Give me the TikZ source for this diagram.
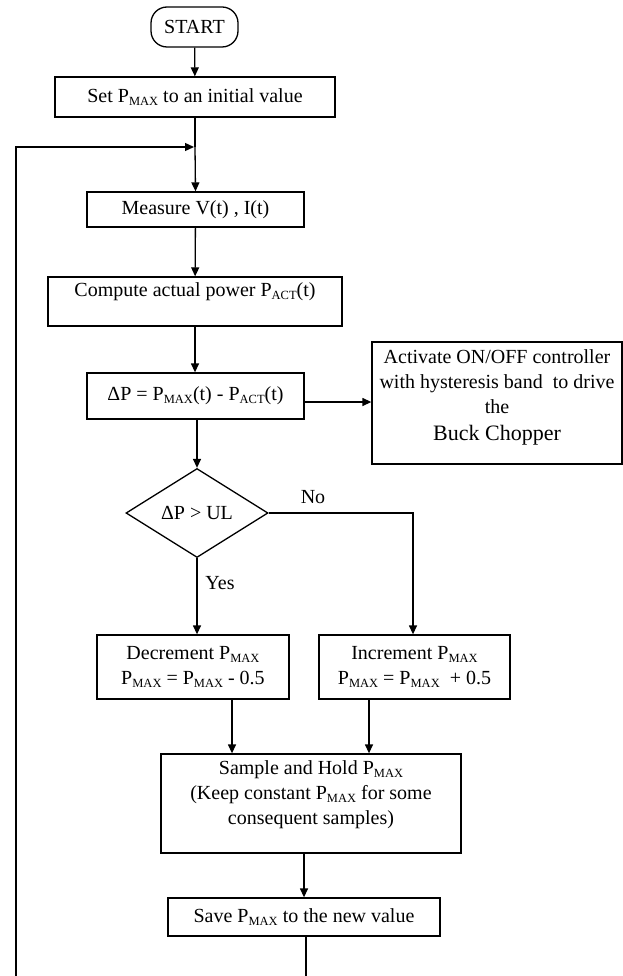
\documentclass[tikz,border=0pt]{standalone}
\usepackage{fontspec}
\setmainfont{Liberation Serif}
\usetikzlibrary{arrows.meta,shapes.geometric}
\newcommand{\subx}[1]{\raisebox{-3pt}{\fontsize{12.5}{12.5}\selectfont #1}}
\begin{document}
\begin{tikzpicture}[x=1pt,y=-1pt,
  box/.style={draw,line width=1.3pt,inner sep=0pt,align=center,font=\fontsize{20}{25}\selectfont},
  txt/.style={inner sep=0pt,align=center,font=\fontsize{20}{25}\selectfont},
  arr/.style={line width=1.3pt,-{Triangle[length=9pt,width=8pt]}},
  ln/.style={line width=1.3pt}]
\useasboundingbox (0,0) rectangle (623,976);
% nodes
\node[box, rounded corners=16pt, minimum width=87pt, minimum height=40pt] (start) at (194.5,27) {START};
\node[box, minimum width=280pt, minimum height=40pt] (set) at (195,97) {Set P\subx{MAX} to an initial value};
\coordinate (j) at (195,147);
\node[box, minimum width=217pt, minimum height=35pt] (meas) at (195.5,209.5) {Measure V(t) , I(t)};
\node[box, minimum width=294pt, minimum height=49pt] (comp) at (195,301.5) {};
\node[txt] (compt) at (195,292) {Compute actual power P\subx{ACT}(t)};
\node[box, minimum width=217pt, minimum height=46pt] (dp) at (195.5,396) {ΔP = P\subx{MAX}(t) - P\subx{ACT}(t)};
\node[box, minimum width=250pt, minimum height=122pt] (act) at (497,403) {};
\node[txt] (actt) at (497,397) {Activate ON/OFF controller\\with hysteresis band~ to drive\\the\\[2pt]{\fontsize{22}{26}\selectfont Buck Chopper}};
\node[box, shape=diamond, minimum width=142pt, minimum height=89pt] (dia) at (197,513) {ΔP > UL};
\node[txt] (no) at (313,497) {No};
\node[txt] (yes) at (220,583) {Yes};
\node[box, minimum width=192pt, minimum height=64pt] (dec) at (193,667) {Decrement P\subx{MAX}\\P\subx{MAX} = P\subx{MAX} - 0.5};
\node[box, minimum width=191pt, minimum height=64pt] (inc) at (414.5,667) {Increment P\subx{MAX}\\P\subx{MAX} = P\subx{MAX}~ + 0.5};
\node[box, minimum width=300pt, minimum height=99pt] (samp) at (311,803.5) {};
\node[txt] (sampt) at (311,795) {Sample and Hold P\subx{MAX}\\(Keep constant P\subx{MAX} for some\\consequent samples)};
\node[box, minimum width=272pt, minimum height=38pt] (save) at (304,917) {Save P\subx{MAX} to the new value};
\coordinate (endr) at (306,976);
\coordinate (endl) at (16,976);
\coordinate (topl) at (16,147);
% connectors
\draw[arr] (start) -- (set);
\draw[ln] (set.south) -- (j);
\draw[arr] (j) -- (meas.north);
\draw[arr] (endl) -- (topl) -- ([xshift=-1pt]j);
\draw[arr] (meas) -- (comp);
\draw[arr] (comp.south) -- (comp.south |- dp.north);
\draw[arr] ([yshift=-6pt]dp.east) -- ([yshift=-6pt]dp.east -| act.west);
\draw[arr] (dp.south -| dia.north) -- (dia.north);
\draw[arr] (dia.south) -- (dia.south |- dec.north);
\draw[arr] (dia.east) -| ([xshift=-1.5pt]inc.north);
\draw[arr] ([xshift=39pt]dec.south) -- ([xshift=39pt]dec.south |- samp.north);
\draw[arr] ([xshift=-45.5pt]inc.south) -- ([xshift=-45.5pt]inc.south |- samp.north);
\draw[arr] (samp.south -| save.north) -- (save.north);
\draw[ln] (save.south -| endr) -- (endr);
\end{tikzpicture}
\end{document}
